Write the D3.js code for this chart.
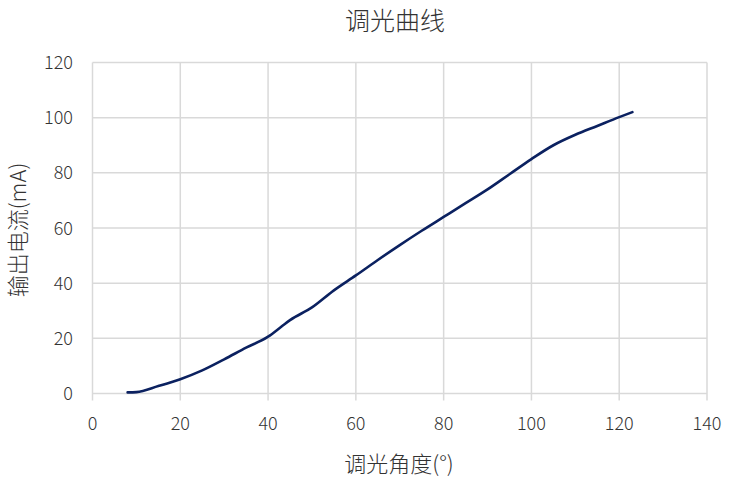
<html>
<head>
<meta charset="utf-8">
<style>
  body { margin: 0; background: #fff; }
  text { font-family: "Noto Sans CJK SC", "Noto Sans", sans-serif; font-weight: 300; }
</style>
</head>
<body>
<svg id="chart" width="731" height="482"></svg>
<script src="https://d3js.org/d3.v7.min.js"></script>
<script>
  // dimming angle (°) vs output current (mA)
  const angles = [8, 10, 15, 20, 25, 30, 35, 40, 43, 45, 50, 55, 60, 65, 70, 75, 80, 85, 90, 95, 100, 105, 110, 115, 120, 123]
  const currents = [0.4, 0.5, 2.7, 5.2, 8.4, 12.4, 16.6, 20.6, 24.2, 26.6, 31.2, 37.4, 42.8, 48.4, 53.8, 59, 64, 69, 74, 79.5, 85, 90, 93.8, 97, 100.2, 102]
  const xTicks = [0, 20, 40, 60, 80, 100, 120, 140]
  const yTicks = [0, 20, 40, 60, 80, 100, 120]

  const svg = d3.select("#chart")
  const plotLeft = 92.5, plotRight = 707, plotTop = 62.5, plotBottom = 393.5

  const x = d3.scaleLinear().domain([0, 140]).range([plotLeft, plotRight])
  const y = d3.scaleLinear().domain([0, 120]).range([plotBottom, plotTop])

  // grid
  svg.append("g").selectAll("line").data(yTicks).enter().append("line")
    .attr("x1", plotLeft).attr("x2", plotRight)
    .attr("y1", d => y(d)).attr("y2", d => y(d))
    .style("stroke", "#d9d9d9").style("stroke-width", 1.5)

  svg.append("g").selectAll("line").data(xTicks).enter().append("line")
    .attr("x1", d => x(d)).attr("x2", d => x(d))
    .attr("y1", plotTop).attr("y2", plotBottom + 7)
    .style("stroke", "#d9d9d9").style("stroke-width", 1.5)

  // tick labels
  svg.append("g").selectAll("text").data(xTicks).enter().append("text")
    .attr("x", d => x(d)).attr("y", 430)
    .attr("text-anchor", "middle")
    .style("font-size", "18px").style("fill", "#333")
    .text(d => d)

  svg.append("g").selectAll("text").data(yTicks).enter().append("text")
    .attr("x", 73).attr("y", d => y(d) + 6.5)
    .attr("text-anchor", "end")
    .style("font-size", "18px").style("fill", "#333")
    .text(d => d)

  // line
  const data = angles.map((a, i) => ({ a: a, c: currents[i] }))
  const line = d3.line()
    .x(d => x(d.a))
    .y(d => y(d.c))
    .curve(d3.curveMonotoneX)

  svg.append("path").datum(data)
    .attr("d", line)
    .style("fill", "none")
    .style("stroke", "#0b2160")
    .style("stroke-width", 2.6)
    .style("stroke-linecap", "round")

  // titles
  svg.append("text")
    .attr("x", 395).attr("y", 30)
    .attr("text-anchor", "middle")
    .style("font-size", "25px").style("fill", "#333")
    .text("调光曲线")

  svg.append("text")
    .attr("x", 399).attr("y", 472)
    .attr("text-anchor", "middle")
    .style("font-size", "22px").style("fill", "#333")
    .text("调光角度(°)")

  svg.append("text")
    .attr("transform", "translate(26,230) rotate(-90)")
    .attr("text-anchor", "middle")
    .style("font-size", "22px").style("fill", "#333")
    .text("输出电流(mA)")
</script>
</body>
</html>
